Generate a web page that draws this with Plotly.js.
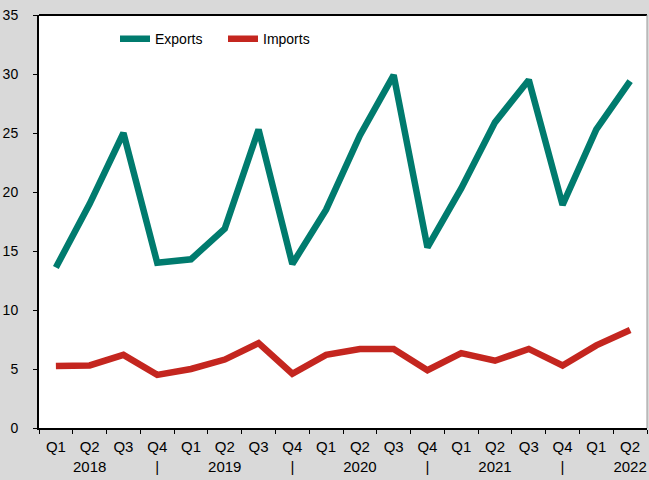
<!DOCTYPE html>
<html>
<head>
<meta charset="utf-8">
<script src="https://cdn.plot.ly/plotly-3.0.1.min.js"></script>
<style>
html,body{margin:0;padding:0;background:#d9d9d9;}
#chart{width:649px;height:480px;}
</style>
</head>
<body>
<div id="chart"></div>
<script>
const categories = ["Q1 2018","Q2 2018","Q3 2018","Q4 2018","Q1 2019","Q2 2019","Q3 2019","Q4 2019","Q1 2020","Q2 2020","Q3 2020","Q4 2020","Q1 2021","Q2 2021","Q3 2021","Q4 2021","Q1 2022","Q2 2022"];
const tickLabels = ["Q1","Q2<br>2018","Q3","Q4<br>|","Q1","Q2<br>2019","Q3","Q4<br>|","Q1","Q2<br>2020","Q3","Q4<br>|","Q1","Q2<br>2021","Q3","Q4<br>|","Q1","Q2<br>2022"];
const exportsVals = [13.6,19.0,25.0,14.0,14.3,16.9,25.3,13.9,18.5,24.8,29.9,15.3,20.3,25.9,29.5,18.9,25.3,29.4];
const importsVals = [5.25,5.3,6.2,4.5,5.0,5.8,7.2,4.6,6.2,6.7,6.7,4.9,6.35,5.7,6.7,5.3,7.0,8.3];

const font = {family:"Liberation Sans, Arial, sans-serif", size:14, color:"#000"};

const traces = [
  {x:categories, y:exportsVals, name:"Exports", type:"scatter", mode:"lines",
   line:{color:"#007B6E", width:6.5}},
  {x:categories, y:importsVals, name:"Imports", type:"scatter", mode:"lines",
   line:{color:"#C4261F", width:6.5}}
];

const layout = {
  width:649, height:480,
  paper_bgcolor:"#d9d9d9", plot_bgcolor:"#ffffff",
  margin:{l:39, r:2, t:15, b:52},
  font:font,
  showlegend:true,
  legend:{orientation:"h", x:0.125, y:0.98, xanchor:"left", yanchor:"top",
          bgcolor:"rgba(0,0,0,0)", font:{family:font.family, size:14},
          entrywidth:63, entrywidthmode:"pixels", tracegroupgap:0},
  xaxis:{type:"category", categoryorder:"array", categoryarray:categories,
         tickmode:"array", tickvals:categories, ticktext:tickLabels, tickangle:0,
         tickson:"boundaries", ticks:"outside", ticklen:4, tickcolor:"#000",
         showline:true, linecolor:"#000", linewidth:2, mirror:false,
         showgrid:false, zeroline:false, range:[-0.5,17.5],
         tickfont:{family:font.family, size:15}, ticklabelstandoff:4},
  yaxis:{range:[0,35], tickvals:[0,5,10,15,20,25,30,35], ticks:"outside", ticklen:4,
         tickcolor:"#000", showline:true, linecolor:"#000", linewidth:2,
         showgrid:false, zeroline:false, tickfont:{family:font.family, size:14},
         ticklabelstandoff:12},
  shapes:[
    {type:"line", xref:"paper", yref:"paper", x0:0, x1:1, y0:1, y1:1, line:{color:"#000", width:2}},
    {type:"line", xref:"paper", yref:"paper", x0:1, x1:1, y0:0, y1:1, line:{color:"#999", width:1}}
  ]
};

Plotly.newPlot("chart", traces, layout, {displayModeBar:false, staticPlot:true});
</script>
</body>
</html>
